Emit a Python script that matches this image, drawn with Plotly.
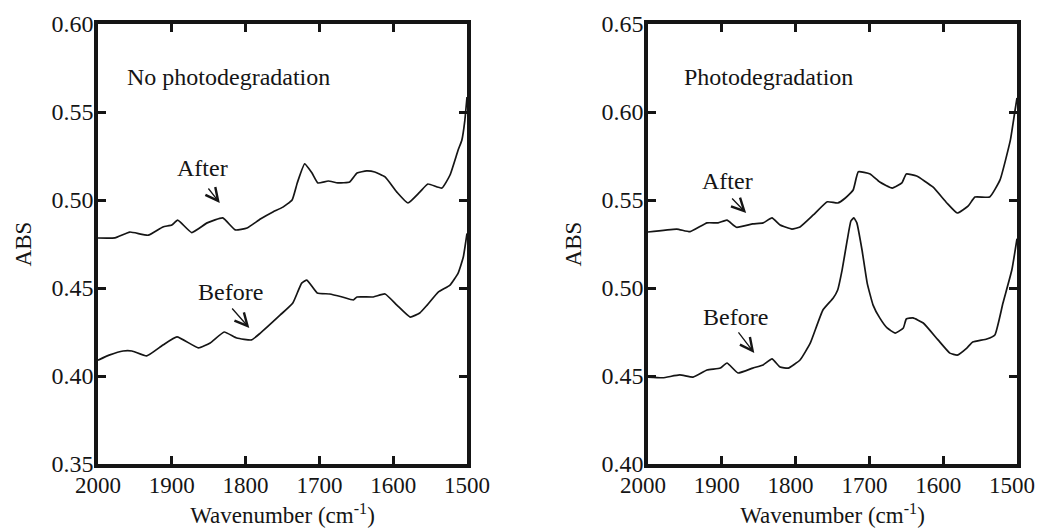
import plotly.graph_objects as go

# ---- data ----
wn_left_after = [2000, 1977, 1957, 1932, 1912, 1900, 1892, 1873, 1852, 1831, 1814, 1798, 1780, 1763, 1750, 1737,
                 1730, 1720, 1710, 1702, 1688, 1675, 1659, 1649, 1636, 1625, 1611, 1595, 1580, 1564, 1553, 1534,
                 1523, 1512, 1507, 1503, 1500]
abs_left_after = [0.4784, 0.4785, 0.4818, 0.4800, 0.4847, 0.4858, 0.4886, 0.4815, 0.4870, 0.4898, 0.4830, 0.4841,
                  0.4892, 0.4932, 0.4958, 0.5000, 0.5097, 0.5205, 0.5153, 0.5097, 0.5108, 0.5097, 0.5102, 0.5153,
                  0.5165, 0.5159, 0.5131, 0.5045, 0.4983, 0.5045, 0.5091, 0.5068, 0.5142, 0.5284, 0.5340, 0.5450,
                  0.5585]

wn_left_before = [2000, 1984, 1966, 1954, 1934, 1912, 1893, 1864, 1848, 1829, 1812, 1792, 1780, 1753, 1736, 1724,
                  1717, 1703, 1686, 1669, 1654, 1649, 1627, 1611, 1595, 1577, 1564, 1554, 1539, 1523, 1512, 1505,
                  1500]
abs_left_before = [0.4090, 0.4120, 0.4142, 0.4142, 0.4114, 0.4176, 0.4222, 0.4160, 0.4188, 0.4250, 0.4216, 0.4205,
                   0.4244, 0.4347, 0.4415, 0.4528, 0.4545, 0.4472, 0.4466, 0.4449, 0.4432, 0.4449, 0.4449, 0.4466,
                   0.4403, 0.4335, 0.4358, 0.4403, 0.4477, 0.4517, 0.4585, 0.4676, 0.4810]

wn_right_after = [2000, 1961, 1943, 1920, 1905, 1893, 1880, 1858, 1844, 1832, 1821, 1805, 1794, 1776, 1757, 1743,
                  1733, 1722, 1715, 1699, 1686, 1669, 1656, 1650, 1636, 1614, 1595, 1581, 1566, 1557, 1537, 1523,
                  1509, 1503, 1500]
abs_right_after = [0.5318, 0.5335, 0.5320, 0.5370, 0.5370, 0.5386, 0.5345, 0.5364, 0.5370, 0.5398, 0.5358, 0.5335,
                   0.5347, 0.5415, 0.5490, 0.5483, 0.5510, 0.5557, 0.5660, 0.5648, 0.5602, 0.5568, 0.5597, 0.5648,
                   0.5636, 0.5574, 0.5483, 0.5426, 0.5466, 0.5517, 0.5517, 0.5614, 0.5840, 0.6000, 0.6080]

wn_right_before = [2000, 1980, 1957, 1939, 1920, 1902, 1893, 1878, 1858, 1844, 1832, 1821, 1810, 1794, 1780, 1763,
                   1749, 1743, 1737, 1730, 1725, 1721, 1717, 1710, 1703, 1695, 1686, 1676, 1665, 1654, 1650, 1641,
                   1627, 1607, 1591, 1581, 1568, 1560, 1541, 1530, 1519, 1507, 1500]
abs_right_before = [0.4494, 0.4490, 0.4506, 0.4494, 0.4534, 0.4545, 0.4574, 0.4517, 0.4545, 0.4563, 0.4597, 0.4551,
                    0.4545, 0.4591, 0.4688, 0.4875, 0.4943, 0.4989, 0.5102, 0.5273, 0.5381, 0.5398, 0.5370, 0.5216,
                    0.5028, 0.4903, 0.4830, 0.4773, 0.4744, 0.4773, 0.4824, 0.4830, 0.4801, 0.4705, 0.4630, 0.4619,
                    0.4659, 0.4693, 0.4710, 0.4733, 0.4915, 0.5102, 0.5280]

x_ticks = [2000, 1900, 1800, 1700, 1600, 1500]
y_ticks_left = [0.35, 0.40, 0.45, 0.50, 0.55, 0.60]
y_ticks_right = [0.40, 0.45, 0.50, 0.55, 0.60, 0.65]
panel_titles = ["No photodegradation", "Photodegradation"]

FONT = "Liberation Serif"
INK = "#151515"
W, H = 1037, 530

fig = go.Figure()
line = dict(color=INK, width=1.7, shape="spline", smoothing=0.4)
fig.add_trace(go.Scatter(x=wn_left_after, y=abs_left_after, mode="lines", line=line, xaxis="x", yaxis="y"))
fig.add_trace(go.Scatter(x=wn_left_before, y=abs_left_before, mode="lines", line=line, xaxis="x", yaxis="y"))
fig.add_trace(go.Scatter(x=wn_right_after, y=abs_right_after, mode="lines", line=line, xaxis="x2", yaxis="y2"))
fig.add_trace(go.Scatter(x=wn_right_before, y=abs_right_before, mode="lines", line=line, xaxis="x2", yaxis="y2"))

def xax(domain, anchor, shift=0):
    return dict(domain=domain, anchor=anchor, range=[2000, 1500], tickvals=x_ticks,
                ticktext=[str(t) for t in x_ticks], ticks="inside", ticklen=8, tickwidth=3, tickcolor=INK,
                showline=True, linewidth=3.5, linecolor=INK, mirror="ticks", showgrid=False, zeroline=False,
                automargin=False, ticklabelstandoff=-2, ticklabelshift=shift, ticklabeloverflow="allow",
                tickfont=dict(family=FONT, size=23, color=INK),
                title=dict(text="Wavenumber (cm<sup>-1</sup>)", font=dict(family=FONT, size=23, color=INK),
                           standoff=11))

def yax(domain, anchor, rng, ticks):
    return dict(domain=domain, anchor=anchor, range=rng, tickvals=ticks,
                ticktext=["%.2f" % t for t in ticks], ticks="inside", ticklen=8, tickwidth=3, tickcolor=INK,
                showline=True, linewidth=3.5, linecolor=INK, mirror="ticks", showgrid=False, zeroline=False,
                automargin=False, ticklabelstandoff=-4, ticklabeloverflow="allow",
                tickfont=dict(family=FONT, size=24, color=INK),
                title=dict(text="ABS", font=dict(family=FONT, size=23, color=INK), standoff=14))

ydom = [(H - 464) / H, (H - 24) / H]
fig.update_layout(
    template="none",
    width=W, height=H, margin=dict(l=0, r=0, t=0, b=0, autoexpand=False),
    font=dict(family=FONT, color=INK),
    paper_bgcolor="white", plot_bgcolor="white", showlegend=False,
    xaxis=xax([98 / W, 467 / W], "y"),
    yaxis=yax(ydom, "x", [0.35, 0.60], y_ticks_left),
    xaxis2=xax([648 / W, 1017 / W], "y2", shift=5),
    yaxis2=yax(ydom, "x2", [0.40, 0.65], y_ticks_right),
)

tfont = dict(family=FONT, size=24, color=INK)
ann = []
# panel titles
ann.append(dict(x=1963, y=0.570, xref="x", yref="y", text=panel_titles[0], showarrow=False,
                xanchor="left", yanchor="middle", font=tfont))
ann.append(dict(x=1954, y=0.620, xref="x2", yref="y2", text=panel_titles[1], showarrow=False,
                xanchor="left", yanchor="middle", font=tfont))
# labels
ann.append(dict(x=1858, y=0.5182, xref="x", yref="y", text="After", showarrow=False, font=tfont))
ann.append(dict(x=1821, y=0.4477, xref="x", yref="y", text="Before", showarrow=False, font=tfont))
ann.append(dict(x=1892, y=0.5608, xref="x2", yref="y2", text="After", showarrow=False, font=tfont))
ann.append(dict(x=1882, y=0.4835, xref="x2", yref="y2", text="Before", showarrow=False, font=tfont))

def add_arrow(xr, yr, x, y, ax, ay):
    # tip at (x, y), tail at (ax, ay), both in data units
    ann.append(dict(x=x, y=y, xref=xr, yref=yr, ax=ax, ay=ay, axref=xr, ayref=yr, text="",
                    showarrow=True, arrowhead=5, arrowsize=1.9, arrowwidth=1.3, arrowcolor=INK))

add_arrow("x", "y", 1835, 0.4983, 1852, 0.5074)
add_arrow("x", "y", 1795, 0.4273, 1820, 0.4392)
add_arrow("x2", "y2", 1867, 0.5426, 1888, 0.5517)
add_arrow("x2", "y2", 1856, 0.4631, 1879, 0.4756)
fig.update_layout(annotations=ann)

fig.write_html("out.html")
